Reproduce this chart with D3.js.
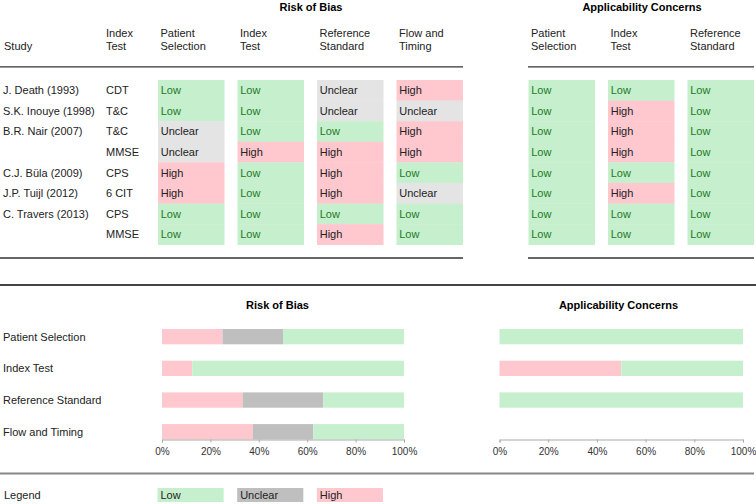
<!DOCTYPE html>
<html><head><meta charset="utf-8">
<script src="https://cdn.jsdelivr.net/npm/d3@7"></script>
<style>
body{margin:0;background:#fff;}
text{font-family:"Liberation Sans",Arial,sans-serif;}
</style></head>
<body><svg id="c" width="756" height="504"></svg>
<script>
// ---------- data ----------
const studies = ["J. Death (1993)", "S.K. Inouye (1998)", "B.R. Nair (2007)", "", "C.J. Büla (2009)", "J.P. Tuijl (2012)", "C. Travers (2013)", ""];
const indexTests = ["CDT", "T&C", "T&C", "MMSE", "CPS", "6 CIT", "CPS", "MMSE"];
const robPatientSelection = ["Low","Low","Unclear","Unclear","High","High","Low","Low"];
const robIndexTest = ["Low","Low","Low","High","Low","Low","Low","Low"];
const robReferenceStandard = ["Unclear","Unclear","Low","High","High","High","Low","High"];
const robFlowTiming = ["High","Unclear","High","High","Low","Unclear","Low","Low"];
const appPatientSelection = ["Low","Low","Low","Low","Low","Low","Low","Low"];
const appIndexTest = ["Low","High","High","High","Low","High","Low","Low"];
const appReferenceStandard = ["Low","Low","Low","Low","Low","Low","Low","Low"];
const robHeaders = [["Patient","Selection"],["Index","Test"],["Reference","Standard"],["Flow and","Timing"]];
const appHeaders = [["Patient","Selection"],["Index","Test"],["Reference","Standard"]];
const domains = ["Patient Selection","Index Test","Reference Standard","Flow and Timing"];
const robHighPct = [25, 12.5, 33.3, 37.5];
const robUnclearPct = [25, 0, 33.3, 25];
const robLowPct = [50, 87.5, 33.4, 37.5];
const appDomains = ["Patient Selection","Index Test","Reference Standard"];
const appHighPct = [0, 50, 0];
const appUnclearPct = [0, 0, 0];
const appLowPct = [100, 50, 100];
const tickValues = [0, 20, 40, 60, 80, 100];
const levels = ["Low","Unclear","High"];

// ---------- styles ----------
const bg = {Low:"#c6efce", Unclear:"#e4e4e4", High:"#ffc7ce"};
const barBg = {Low:"#c6efce", Unclear:"#bfbfbf", High:"#ffc7ce"};
const fg = {Low:"#1e7a1e", Unclear:"#222", High:"#222"};
const svg = d3.select("#c");
const FS = 11;

// ---------- top table ----------
svg.append("text").attr("x",311).attr("y",11).attr("text-anchor","middle")
  .attr("font-size",FS).attr("font-weight","bold").text("Risk of Bias");
svg.append("text").attr("x",642).attr("y",11).attr("text-anchor","middle")
  .attr("font-size",FS).attr("font-weight","bold").text("Applicability Concerns");

const xRob = d3.scaleBand().domain(d3.range(4)).range([158, 463]).paddingInner(0.1635).paddingOuter(0);
const xApp = d3.scaleBand().domain(d3.range(3)).range([528.5, 754]).paddingInner(0.1635).paddingOuter(0);
const yRow = d3.scaleBand().domain(d3.range(8)).range([80, 244.7]).padding(0);

function header(x, lines){
  const t = svg.append("text").attr("font-size",FS).attr("fill","#222");
  lines.forEach((l,i)=>{
    t.append("tspan").attr("x",x).attr("y", lines.length===1 ? 50 : 37 + i*13).text(l);
  });
}
header(4, ["Study"]);
header(106, ["Index","Test"]);
robHeaders.forEach((h,i)=>header(xRob(i)+2.5, h));
appHeaders.forEach((h,i)=>header(xApp(i)+2.5, h));

const hline = (x1,x2,y,w,c)=>svg.append("line").attr("x1",x1).attr("x2",x2).attr("y1",y).attr("y2",y)
  .attr("stroke",c).attr("stroke-width",w);
hline(0,463,66.8,1.3,"#333");
hline(528,754,66.8,1.3,"#333");
hline(0,463,258,1.3,"#333");
hline(528,754,258,1.3,"#333");

// row labels
studies.forEach((s,i)=>{
  svg.append("text").attr("x",3).attr("y",yRow(i)+yRow.bandwidth()/2).attr("dy","0.36em")
    .attr("font-size",FS).attr("fill","#222").text(s);
  svg.append("text").attr("x",106).attr("y",yRow(i)+yRow.bandwidth()/2).attr("dy","0.36em")
    .attr("font-size",FS).attr("fill","#222").text(indexTests[i]);
});

function column(xs, ci, vals){
  const g = svg.append("g");
  vals.forEach((v,i)=>{
    g.append("rect").attr("x",xs(ci)).attr("y",yRow(i)).attr("width",xs.bandwidth())
      .attr("height",yRow.bandwidth()+0.3).attr("fill",bg[v]);
    g.append("text").attr("x",xs(ci)+2.7).attr("y",yRow(i)+yRow.bandwidth()/2).attr("dy","0.36em")
      .attr("font-size",FS).attr("fill",fg[v]).text(v);
  });
}
[robPatientSelection, robIndexTest, robReferenceStandard, robFlowTiming].forEach((c,i)=>column(xRob,i,c));
[appPatientSelection, appIndexTest, appReferenceStandard].forEach((c,i)=>column(xApp,i,c));

// separator
hline(0,756,285,2,"#444");

// ---------- summary bars ----------
svg.append("text").attr("x",277.5).attr("y",309).attr("text-anchor","middle")
  .attr("font-size",FS).attr("font-weight","bold").text("Risk of Bias");
svg.append("text").attr("x",618.5).attr("y",309).attr("text-anchor","middle")
  .attr("font-size",FS).attr("font-weight","bold").text("Applicability Concerns");

const yBar = d3.scaleBand().domain(domains).range([329, 439.4]).paddingInner(0.517).paddingOuter(0);
const xL = d3.scaleLinear().domain([0,100]).range([162, 404]);
const xR = d3.scaleLinear().domain([0,100]).range([499.5, 743]);

domains.forEach(d=>{
  svg.append("text").attr("x",3).attr("y",yBar(d)+yBar.bandwidth()/2).attr("dy","0.36em")
    .attr("font-size",FS).attr("fill","#222").text(d);
});

function bars(xs, doms, hi, un, lo){
  doms.forEach((d,i)=>{
    const segs = [["High",hi[i]],["Unclear",un[i]],["Low",lo[i]]];
    let acc = 0;
    segs.forEach(([k,v])=>{
      if(v>0){
        svg.append("rect").attr("x",xs(acc)).attr("y",yBar(d)).attr("width",xs(acc+v)-xs(acc))
          .attr("height",yBar.bandwidth()).attr("fill",barBg[k]);
      }
      acc += v;
    });
  });
}
bars(xL, domains, robHighPct, robUnclearPct, robLowPct);
bars(xR, appDomains, appHighPct, appUnclearPct, appLowPct);

function axis(xs){
  const g = svg.append("g").attr("transform","translate(0,439.5)")
    .call(d3.axisBottom(xs).tickValues(tickValues).tickSize(3).tickFormat(d=>d+"%"));
  g.select(".domain").attr("stroke","#aaa");
  g.selectAll(".tick line").attr("stroke","#aaa");
  g.selectAll(".tick text").attr("font-size",10).attr("fill","#333")
    .attr("font-family","'Liberation Sans',Arial,sans-serif").attr("y",8);
  return g;
}
axis(xL);
axis(xR);

hline(0,754,473.5,2.2,"#888");

// ---------- legend ----------
svg.append("text").attr("x",4).attr("y",495).attr("dy","0.36em").attr("font-size",FS).attr("fill","#222").text("Legend");
const xLeg = d3.scaleBand().domain(levels).range([157.5, 383]).paddingInner(0.17).paddingOuter(0);
levels.forEach(l=>{
  svg.append("rect").attr("x",xLeg(l)).attr("y",488).attr("width",xLeg.bandwidth()).attr("height",14).attr("fill",barBg[l]);
  svg.append("text").attr("x",xLeg(l)+3).attr("y",495).attr("dy","0.36em").attr("font-size",FS)
    .attr("fill",l==="Low"?"#222":"#222").text(l);
});
</script></body></html>
